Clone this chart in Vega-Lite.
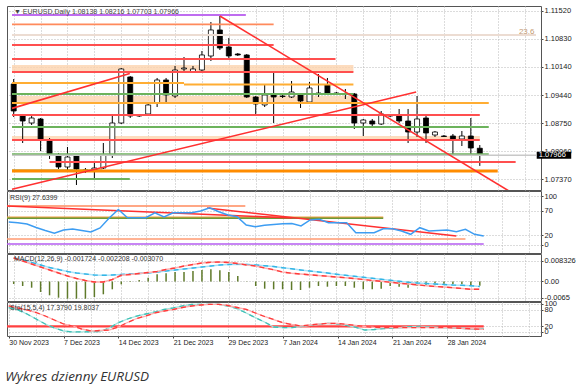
{
  "$schema": "https://vega.github.io/schema/vega-lite/v6.json",
  "padding": {"left": 5, "top": 5, "right": 0, "bottom": 0},
  "spacing": 1,
  "bounds": "flush",
  "resolve": {"scale": {"color": "independent"}},
  "title": {"text": "Wykres dzienny EURUSD", "orient": "bottom", "anchor": "start", "font": "Open Sans", "fontStyle": "italic", "fontSize": 13.5, "fontWeight": "normal", "color": "#333333", "offset": 24},
  "config": {
    "view": {"stroke": "#555555", "strokeWidth": 1},
    "axis": {"labelFont": "Liberation Sans", "labelFontSize": 7.5, "labelColor": "#222222", "gridColor": "#b8b8b8", "gridDash": [1, 2], "gridWidth": 1, "domain": false, "tickColor": "#444444", "tickSize": 2, "labelPadding": 1, "labelOverlap": false},
    "text": {"font": "Liberation Sans"}
  },
  "datasets": {
    "bars": [
      {"i":0,"o":1.09721,"h":1.09844,"l":1.08908,"c":1.09056,"rsi":46.7,"mh":-0.0010,"mb":0.0094,"mr":0.0094,"sk":86.8,"sd":92.9},
      {"i":1,"o":1.08932,"h":1.08982,"l":1.08267,"c":1.08809,"rsi":45.2,"mh":-0.0018,"mb":0.0086,"mr":0.0082,"sk":78.6,"sd":85.7},
      {"i":2,"o":1.08760,"h":1.08932,"l":1.08711,"c":1.08883,"rsi":42.6,"mh":-0.00248,"mb":0.0076,"mr":0.0070,"sk":64.3,"sd":78.6},
      {"i":3,"o":1.08859,"h":1.08883,"l":1.08070,"c":1.08341,"rsi":35.4,"mh":-0.0042,"mb":0.0066,"mr":0.0058,"sk":46.4,"sd":69.6},
      {"i":4,"o":1.08341,"h":1.08390,"l":1.07873,"c":1.07971,"rsi":29.2,"mh":-0.00552,"mb":0.0056,"mr":0.0046,"sk":28.6,"sd":57.1},
      {"i":5,"o":1.07971,"h":1.08021,"l":1.07626,"c":1.07676,"rsi":23.5,"mh":-0.00648,"mb":0.0048,"mr":0.0034,"sk":14.3,"sd":42.9},
      {"i":6,"o":1.07676,"h":1.08169,"l":1.07577,"c":1.07922,"rsi":30.3,"mh":-0.00688,"mb":0.0040,"mr":0.0022,"sk":3.6,"sd":28.6},
      {"i":7,"o":1.07947,"h":1.07996,"l":1.07232,"c":1.07626,"rsi":32.3,"mh":-0.00688,"mb":0.0034,"mr":0.0012,"sk":0,"sd":21.4},
      {"i":8,"o":1.07602,"h":1.07651,"l":1.07528,"c":1.07577,"rsi":29.2,"mh":-0.00688,"mb":0.0030,"mr":0.0004,"sk":0.5,"sd":10.7},
      {"i":9,"o":1.07602,"h":1.07774,"l":1.07404,"c":1.07651,"rsi":26.2,"mh":-0.0062,"mb":0.0026,"mr":-0.0002,"sk":1,"sd":3.6},
      {"i":10,"o":1.07651,"h":1.08267,"l":1.07626,"c":1.07971,"rsi":34.4,"mh":-0.00512,"mb":0.00248,"mr":-0.0002,"sk":1.8,"sd":5.4},
      {"i":11,"o":1.07971,"h":1.08982,"l":1.07897,"c":1.08760,"rsi":54.9,"mh":-0.00312,"mb":0.0026,"mr":0.0008,"sk":14.3,"sd":7.1},
      {"i":12,"o":1.08760,"h":1.10115,"l":1.08735,"c":1.10091,"rsi":72.3,"mh":-0.00112,"mb":0.0028,"mr":0.00248,"sk":33.2,"sd":17.9},
      {"i":13,"o":1.09894,"h":1.09918,"l":1.08883,"c":1.08932,"rsi":55.5,"mh":-0.0002,"mb":0.0030,"mr":0.0028,"sk":46.4,"sd":33.9},
      {"i":14,"o":1.08957,"h":1.08982,"l":1.08908,"c":1.08932,"rsi":55.5,"mh":0.0006,"mb":0.0032,"mr":0.0032,"sk":57.1,"sd":48.2},
      {"i":15,"o":1.08982,"h":1.09228,"l":1.08932,"c":1.09204,"rsi":55.5,"mh":0.00152,"mb":0.0034,"mr":0.0036,"sk":64.3,"sd":57.1},
      {"i":16,"o":1.09253,"h":1.09869,"l":1.09154,"c":1.09820,"rsi":65.7,"mh":0.00288,"mb":0.0038,"mr":0.0040,"sk":71.4,"sd":67.9},
      {"i":17,"o":1.09820,"h":1.09869,"l":1.09277,"c":1.09450,"rsi":56.9,"mh":0.00328,"mb":0.0042,"mr":0.0048,"sk":80.4,"sd":75},
      {"i":18,"o":1.09425,"h":1.10165,"l":1.09376,"c":1.10066,"rsi":65.7,"mh":0.0038,"mb":0.0046,"mr":0.0054,"sk":85.7,"sd":80.4},
      {"i":19,"o":1.10091,"h":1.10386,"l":1.10041,"c":1.10115,"rsi":65.7,"mh":0.0038,"mb":0.0050,"mr":0.0062,"sk":92.9,"sd":87.5},
      {"i":20,"o":1.10017,"h":1.10165,"l":1.09992,"c":1.10091,"rsi":65.7,"mh":0.0042,"mb":0.0054,"mr":0.0068,"sk":98.2,"sd":92.9},
      {"i":21,"o":1.10066,"h":1.10534,"l":1.10041,"c":1.10436,"rsi":69.2,"mh":0.0046,"mb":0.0058,"mr":0.0074,"sk":98.9,"sd":96.4},
      {"i":22,"o":1.10411,"h":1.11249,"l":1.10288,"c":1.11052,"rsi":76.0,"mh":0.00488,"mb":0.0062,"mr":0.00768,"sk":98.9,"sd":98.9},
      {"i":23,"o":1.11052,"h":1.11397,"l":1.10559,"c":1.10608,"rsi":67.8,"mh":0.00448,"mb":0.0066,"mr":0.0078,"sk":98.9,"sd":98.9},
      {"i":24,"o":1.10633,"h":1.10855,"l":1.10362,"c":1.10411,"rsi":61.0,"mh":0.0038,"mb":0.0068,"mr":0.0076,"sk":92.9,"sd":94.6},
      {"i":25,"o":1.10460,"h":1.10485,"l":1.10411,"c":1.10436,"rsi":57.5,"mh":0.0022,"mb":0.00688,"mr":0.0072,"sk":83.2,"sd":87.5},
      {"i":26,"o":1.10436,"h":1.10460,"l":1.09376,"c":1.09401,"rsi":40.5,"mh":0.0001,"mb":0.0068,"mr":0.0066,"sk":67.9,"sd":80.4},
      {"i":27,"o":1.09401,"h":1.09425,"l":1.08932,"c":1.09228,"rsi":37.0,"mh":-0.0018,"mb":0.0066,"mr":0.0062,"sk":51.1,"sd":67.9},
      {"i":28,"o":1.09204,"h":1.09696,"l":1.09154,"c":1.09450,"rsi":39.9,"mh":-0.00288,"mb":0.00632,"mr":0.0054,"sk":35.7,"sd":55.4},
      {"i":29,"o":1.09450,"h":1.09992,"l":1.08760,"c":1.09401,"rsi":41.5,"mh":-0.00312,"mb":0.0060,"mr":0.00472,"sk":17.9,"sd":44.6},
      {"i":30,"o":1.09425,"h":1.09475,"l":1.09376,"c":1.09413,"rsi":43.2,"mh":-0.00312,"mb":0.00552,"mr":0.0038,"sk":16.1,"sd":33.2},
      {"i":31,"o":1.09401,"h":1.09795,"l":1.09376,"c":1.09524,"rsi":43.6,"mh":-0.0034,"mb":0.00508,"mr":0.00328,"sk":15.4,"sd":26.8},
      {"i":32,"o":1.09450,"h":1.09499,"l":1.09130,"c":1.09302,"rsi":38.5,"mh":-0.0034,"mb":0.0046,"mr":0.0030,"sk":19.6,"sd":21.4},
      {"i":33,"o":1.09277,"h":1.09770,"l":1.09253,"c":1.09623,"rsi":50.8,"mh":-0.00248,"mb":0.0042,"mr":0.00268,"sk":23.9,"sd":25},
      {"i":34,"o":1.09475,"h":1.09967,"l":1.09401,"c":1.09499,"rsi":52.2,"mh":-0.0018,"mb":0.0038,"mr":0.0024,"sk":27.5,"sd":28.6},
      {"i":35,"o":1.09696,"h":1.09869,"l":1.09475,"c":1.09499,"rsi":45.3,"mh":-0.00208,"mb":0.0034,"mr":0.00212,"sk":31.1,"sd":31.1},
      {"i":36,"o":1.09499,"h":1.09524,"l":1.09450,"c":1.09487,"rsi":45.3,"mh":-0.0018,"mb":0.00292,"mr":0.0018,"sk":28.6,"sd":30.4},
      {"i":37,"o":1.09475,"h":1.09598,"l":1.09351,"c":1.09462,"rsi":45.3,"mh":-0.0018,"mb":0.00248,"mr":0.00152,"sk":23.9,"sd":27.5},
      {"i":38,"o":1.09475,"h":1.09499,"l":1.08612,"c":1.08760,"rsi":24.7,"mh":-0.00248,"mb":0.00208,"mr":0.0012,"sk":16.1,"sd":23.2},
      {"i":39,"o":1.08760,"h":1.08859,"l":1.08440,"c":1.08834,"rsi":24.7,"mh":-0.00312,"mb":0.00168,"mr":0.0008,"sk":7.1,"sd":19.6},
      {"i":40,"o":1.08809,"h":1.08859,"l":1.08686,"c":1.08735,"rsi":24.7,"mh":-0.00312,"mb":0.00128,"mr":0.0004,"sk":8.9,"sd":16.8},
      {"i":41,"o":1.08735,"h":1.09056,"l":1.08711,"c":1.08982,"rsi":32.9,"mh":-0.00288,"mb":0.00088,"mr":0.00008,"sk":11.8,"sd":15.4},
      {"i":42,"o":1.08932,"h":1.08982,"l":1.08908,"c":1.08957,"rsi":32.9,"mh":-0.0018,"mb":0.00048,"mr":-0.00028,"sk":14.3,"sd":15.4},
      {"i":43,"o":1.08932,"h":1.09105,"l":1.08760,"c":1.08809,"rsi":28.2,"mh":-0.00208,"mb":0.00008,"mr":-0.00068,"sk":16.1,"sd":15.4},
      {"i":44,"o":1.08809,"h":1.09105,"l":1.08267,"c":1.08538,"rsi":21.4,"mh":-0.00248,"mb":-0.00032,"mr":-0.0010,"sk":18.9,"sd":15.4},
      {"i":45,"o":1.08538,"h":1.09425,"l":1.08415,"c":1.08859,"rsi":35.0,"mh":-0.0018,"mb":-0.0006,"mr":-0.00132,"sk":19.6,"sd":16.1},
      {"i":46,"o":1.08883,"h":1.08982,"l":1.08267,"c":1.08514,"rsi":28.2,"mh":-0.0018,"mb":-0.0008,"mr":-0.00168,"sk":17.9,"sd":16.1},
      {"i":47,"o":1.08464,"h":1.08563,"l":1.08415,"c":1.08538,"rsi":29.2,"mh":-0.00152,"mb":-0.0010,"mr":-0.0020,"sk":16.1,"sd":15.4},
      {"i":48,"o":1.08440,"h":1.08464,"l":1.08415,"c":1.08427,"rsi":30.3,"mh":-0.00128,"mb":-0.0012,"mr":-0.0022,"sk":15.4,"sd":15.4},
      {"i":49,"o":1.08440,"h":1.08489,"l":1.07971,"c":1.08341,"rsi":26.8,"mh":-0.00112,"mb":-0.0014,"mr":-0.00248,"sk":14.3,"sd":14.3},
      {"i":50,"o":1.08366,"h":1.08563,"l":1.08193,"c":1.08440,"rsi":31.7,"mh":-0.00112,"mb":-0.00152,"mr":-0.0028,"sk":12.5,"sd":12.5},
      {"i":51,"o":1.08440,"h":1.08883,"l":1.07947,"c":1.08144,"rsi":21.4,"mh":-0.00152,"mb":-0.00168,"mr":-0.00312,"sk":9.6,"sd":10.7},
      {"i":52,"o":1.08138,"h":1.08216,"l":1.07703,"c":1.07966,"rsi":17.9,"mh":-0.001724,"mb":-0.0020,"mr":-0.00307,"sk":11,"sd":9.6}
    ],
    "bands": [
      {"a":-0.19,"b":37.9,"p":1.10189,"q":1.10017},
      {"a":-0.19,"b":37.9,"p":1.09425,"q":1.09270},
      {"a":-0.19,"b":52,"p":1.08440,"q":1.08341}
    ],
    "mainLines": [
      {"kind":"price","a":-0.19,"b":58.27,"p":1.07966,"q":1.07966},
      {"kind":"purple","a":-0.19,"b":25.9,"p":1.11421,"q":1.11421},
      {"kind":"coral","a":-0.19,"b":29,"p":1.11192,"q":1.11192},
      {"kind":"fib","a":-0.19,"b":58.27,"p":1.10929,"q":1.10929},
      {"kind":"red","a":-0.19,"b":29,"p":1.10682,"q":1.10682},
      {"kind":"red","a":-0.19,"b":35.9,"p":1.10337,"q":1.10337},
      {"kind":"red","a":-0.19,"b":37.9,"p":1.10017,"q":1.10017},
      {"kind":"orange","a":-0.19,"b":19,"p":1.09746,"q":1.09746},
      {"kind":"orange","a":19,"b":37.9,"p":1.09709,"q":1.09709},
      {"kind":"green","a":-0.19,"b":37.9,"p":1.09475,"q":1.09475},
      {"kind":"orange","a":-0.19,"b":53,"p":1.09253,"q":1.09253},
      {"kind":"red","a":-0.19,"b":52,"p":1.08957,"q":1.08957},
      {"kind":"green","a":-0.19,"b":53,"p":1.08661,"q":1.08661},
      {"kind":"red","a":-0.19,"b":52,"p":1.08341,"q":1.08341},
      {"kind":"green","a":-0.19,"b":53,"p":1.07995,"q":1.07995},
      {"kind":"red","a":4,"b":56,"p":1.07799,"q":1.07799},
      {"kind":"orangeThick","a":-0.19,"b":54,"p":1.07577,"q":1.07577},
      {"kind":"olive","a":-0.19,"b":9.9,"p":1.07590,"q":1.07590},
      {"kind":"green","a":-0.19,"b":12.95,"p":1.0738,"q":1.0738},
      {"kind":"trend","a":-0.19,"b":12.95,"p":1.0912,"q":1.0998},
      {"kind":"trend","a":-0.19,"b":44.9,"p":1.07129,"q":1.09524},
      {"kind":"trend","a":23,"b":56,"p":1.11397,"q":1.06985}
    ],
    "rsiLines": [
      {"kind":"coral","a":-0.19,"b":25.9,"p":79.5,"q":79.5},
      {"kind":"orange","a":-0.19,"b":41,"p":56.3,"q":56.3},
      {"kind":"olive","a":-0.19,"b":41,"p":54.5,"q":54.5},
      {"kind":"salmon","a":-0.19,"b":50,"p":11.8,"q":11.8},
      {"kind":"purple","a":-0.19,"b":52,"p":1.5,"q":1.5},
      {"kind":"trend","a":-0.19,"b":31,"p":79.5,"q":54.9},
      {"kind":"trend","a":21.7,"b":49,"p":75.4,"q":17.9}
    ],
    "stochLines": [
      {"kind":"level","a":-0.19,"b":52,"p":20,"q":20}
    ]
  },
  "vconcat": [
    {
      "width": 534,
      "height": 184,
      "layer": [
        {
          "data": {"name": "bands"},
          "mark": {"type": "rect", "color": "#fcd3ae", "opacity": 0.8},
          "encoding": {
            "x": {"field": "a", "type": "quantitative", "title": null, "scale": {"domain": [-0.19, 58.27], "nice": false, "zero": false}, "axis": {"values": [0,3,6,9,12,15,18,21,24,27,30,33,36,39,42,45,48,51,54,57], "tickCount": 40, "labels": false, "ticks": false, "grid": true}},
            "x2": {"field": "b"},
            "y": {"field": "p", "type": "quantitative", "title": null, "scale": {"domain": [1.07109, 1.11643], "nice": false, "zero": false}, "axis": {"orient": "right", "values": [1.0737, 1.0806, 1.0875, 1.0944, 1.1014, 1.1083, 1.1152], "tickCount": 20, "format": ".5f", "grid": true, "labelOverlap": false, "labelFlush": false}},
            "y2": {"field": "q"}
          }
        },
        {
          "data": {"name": "bars"},
          "mark": {"type": "rule", "color": "#000000", "strokeWidth": 1},
          "encoding": {
            "x": {"field": "i", "type": "quantitative", "title": null},
            "y": {"field": "l", "type": "quantitative", "title": null},
            "y2": {"field": "h"}
          }
        },
        {
          "data": {"name": "bars"},
          "mark": {"type": "bar", "size": 5, "stroke": "#000000", "strokeWidth": 0.8},
          "encoding": {
            "x": {"field": "i", "type": "quantitative", "title": null},
            "y": {"field": "o", "type": "quantitative", "title": null},
            "y2": {"field": "c"},
            "fill": {"condition": {"test": "datum.c >= datum.o", "value": "#ffffff"}, "value": "#000000"}
          }
        },
        {
          "data": {"name": "mainLines"},
          "transform": [{"filter": "datum.kind != 'orangeThick' && datum.kind != 'trend' && datum.kind != 'price'"}],
          "mark": {"type": "rule", "strokeWidth": 1.8, "clip": true},
          "encoding": {
            "x": {"field": "a", "type": "quantitative", "title": null},
            "x2": {"field": "b"},
            "y": {"field": "p", "type": "quantitative", "title": null},
            "y2": {"field": "q"},
            "color": {"field": "kind", "type": "nominal", "legend": null, "scale": {"domain": ["purple", "coral", "fib", "red", "orange", "green", "olive"], "range": ["#bf6cf0", "#ff8a5c", "#ecdcd2", "#ff4f4f", "#ffad33", "#6cb35c", "#8c8c1a"]}}
          }
        },
        {
          "data": {"name": "mainLines"},
          "transform": [{"filter": "datum.kind == 'price'"}],
          "mark": {"type": "rule", "strokeWidth": 1.5, "color": "#c8c8c8", "clip": true},
          "encoding": {
            "x": {"field": "a", "type": "quantitative", "title": null},
            "x2": {"field": "b"},
            "y": {"field": "p", "type": "quantitative", "title": null},
            "y2": {"field": "q"}
          }
        },
        {
          "data": {"name": "mainLines"},
          "transform": [{"filter": "datum.kind == 'orangeThick'"}],
          "mark": {"type": "rule", "strokeWidth": 3, "color": "#ff8c00", "clip": true},
          "encoding": {
            "x": {"field": "a", "type": "quantitative", "title": null},
            "x2": {"field": "b"},
            "y": {"field": "p", "type": "quantitative", "title": null},
            "y2": {"field": "q"}
          }
        },
        {
          "data": {"name": "mainLines"},
          "transform": [{"filter": "datum.kind == 'trend'"}],
          "mark": {"type": "rule", "strokeWidth": 1.6, "color": "#ff3030", "clip": true},
          "encoding": {
            "x": {"field": "a", "type": "quantitative", "title": null},
            "x2": {"field": "b"},
            "y": {"field": "p", "type": "quantitative", "title": null},
            "y2": {"field": "q"}
          }
        },
        {
          "data": {"values": [{"t": "▼ EURUSD,Daily  1.08138 1.08216 1.07703 1.07966"}]},
          "mark": {"type": "text", "align": "left", "baseline": "middle", "dx": 2, "fontSize": 7, "color": "#444444"},
          "encoding": {
            "x": {"datum": -0.19, "type": "quantitative"},
            "y": {"datum": 1.11488, "type": "quantitative"},
            "text": {"field": "t"}
          }
        },
        {
          "data": {"values": [{"t": "23.6"}]},
          "mark": {"type": "text", "align": "right", "baseline": "middle", "dy": -2.5, "fontSize": 8, "color": "#c49a72"},
          "encoding": {
            "x": {"datum": 58.1, "type": "quantitative"},
            "y": {"datum": 1.10929, "type": "quantitative"},
            "text": {"field": "t"}
          }
        },
        {
          "data": {"values": [{"a": 58.35, "b": 62.2, "p": 1.0805, "q": 1.07882}]},
          "mark": {"type": "rect", "color": "#000000"},
          "encoding": {
            "x": {"field": "a", "type": "quantitative", "title": null},
            "x2": {"field": "b"},
            "y": {"field": "p", "type": "quantitative", "title": null},
            "y2": {"field": "q"}
          }
        },
        {
          "data": {"values": [{"t": "1.07966", "p": 1.07966}]},
          "mark": {"type": "text", "align": "left", "baseline": "middle", "dx": 2, "fontSize": 7.5, "color": "#ffffff"},
          "encoding": {
            "x": {"datum": 58.35, "type": "quantitative"},
            "y": {"field": "p", "type": "quantitative", "title": null},
            "text": {"field": "t"}
          }
        }
      ]
    },
    {
      "width": 534,
      "height": 62,
      "layer": [
        {
          "data": {"name": "rsiLines"},
          "transform": [{"filter": "datum.kind != 'trend'"}],
          "mark": {"type": "rule", "strokeWidth": 1.6, "clip": true},
          "encoding": {
            "x": {"field": "a", "type": "quantitative", "title": null, "scale": {"domain": [-0.19, 58.27], "nice": false, "zero": false}, "axis": {"values": [0,3,6,9,12,15,18,21,24,27,30,33,36,39,42,45,48,51,54,57], "tickCount": 40, "labels": false, "ticks": false, "grid": true}},
            "x2": {"field": "b"},
            "y": {"field": "p", "type": "quantitative", "title": null, "scale": {"domain": [-16.92, 110.26], "nice": false, "zero": false}, "axis": {"orient": "right", "values": [100, 70, 20, 0], "tickCount": 20, "format": "d", "grid": true, "labelOverlap": false, "labelFlush": false}},
            "y2": {"field": "q"},
            "color": {"field": "kind", "type": "nominal", "legend": null, "scale": {"domain": ["coral", "orange", "olive", "salmon", "purple"], "range": ["#ff8a5c", "#f0a040", "#6a9a3a", "#ff9a70", "#b45cf0"]}}
          }
        },
        {
          "data": {"name": "rsiLines"},
          "transform": [{"filter": "datum.kind == 'trend'"}],
          "mark": {"type": "rule", "strokeWidth": 1.6, "color": "#ff3030", "clip": true},
          "encoding": {
            "x": {"field": "a", "type": "quantitative", "title": null},
            "x2": {"field": "b"},
            "y": {"field": "p", "type": "quantitative", "title": null},
            "y2": {"field": "q"}
          }
        },
        {
          "data": {"name": "bars"},
          "mark": {"type": "line", "color": "#3d9df2", "strokeWidth": 1.5},
          "encoding": {
            "x": {"field": "i", "type": "quantitative", "title": null},
            "y": {"field": "rsi", "type": "quantitative", "title": null}
          }
        },
        {
          "data": {"values": [{"t": "RSI(9) 27.6399"}]},
          "mark": {"type": "text", "align": "left", "baseline": "middle", "dx": 3, "fontSize": 7, "color": "#333333"},
          "encoding": {
            "x": {"datum": -0.19, "type": "quantitative"},
            "y": {"datum": 96.5, "type": "quantitative"},
            "text": {"field": "t"}
          }
        }
      ]
    },
    {
      "width": 534,
      "height": 47,
      "layer": [
        {
          "data": {"name": "bars"},
          "mark": {"type": "bar", "size": 1.5, "color": "#5f7a2a"},
          "encoding": {
            "x": {"field": "i", "type": "quantitative", "title": null, "scale": {"domain": [-0.19, 58.27], "nice": false, "zero": false}, "axis": {"values": [0,3,6,9,12,15,18,21,24,27,30,33,36,39,42,45,48,51,54,57], "tickCount": 40, "labels": false, "ticks": false, "grid": true}},
            "y": {"field": "mh", "type": "quantitative", "title": null, "scale": {"domain": [-0.0078, 0.011], "nice": false, "zero": false}, "axis": {"orient": "right", "values": [0.008326, 0, -0.0065], "tickCount": 20, "labelExpr": "datum.value == 0 ? '0.00' : (datum.value > 0 ? '0.008326' : '-0.0065')", "grid": true, "labelOverlap": false, "labelFlush": false}},
            "y2": {"datum": 0}
          }
        },
        {
          "data": {"name": "bars"},
          "mark": {"type": "line", "color": "#a8e2fa", "strokeWidth": 1.4},
          "encoding": {
            "x": {"field": "i", "type": "quantitative", "title": null},
            "y": {"field": "mb", "type": "quantitative", "title": null}
          }
        },
        {
          "data": {"name": "bars"},
          "mark": {"type": "line", "color": "#33b5e5", "strokeWidth": 1.4, "strokeDash": [5, 4]},
          "encoding": {
            "x": {"field": "i", "type": "quantitative", "title": null},
            "y": {"field": "mb", "type": "quantitative", "title": null}
          }
        },
        {
          "data": {"name": "bars"},
          "mark": {"type": "line", "color": "#ffb0b0", "strokeWidth": 1.4},
          "encoding": {
            "x": {"field": "i", "type": "quantitative", "title": null},
            "y": {"field": "mr", "type": "quantitative", "title": null}
          }
        },
        {
          "data": {"name": "bars"},
          "mark": {"type": "line", "color": "#ff3b3b", "strokeWidth": 1.4, "strokeDash": [5, 4]},
          "encoding": {
            "x": {"field": "i", "type": "quantitative", "title": null},
            "y": {"field": "mr", "type": "quantitative", "title": null}
          }
        },
        {
          "data": {"values": [{"t": "MACD(12,26,9) -0.001724 -0.002208 -0.003070"}]},
          "mark": {"type": "text", "align": "left", "baseline": "middle", "dx": 2, "fontSize": 7, "color": "#333333"},
          "encoding": {
            "x": {"datum": -0.19, "type": "quantitative"},
            "y": {"datum": 0.00912, "type": "quantitative"},
            "text": {"field": "t"}
          }
        }
      ]
    },
    {
      "width": 534,
      "height": 34,
      "layer": [
        {
          "data": {"name": "stochLines"},
          "mark": {"type": "rule", "strokeWidth": 2.2, "color": "#ff4040", "clip": true},
          "encoding": {
            "x": {"field": "a", "type": "quantitative", "title": null, "scale": {"domain": [-0.19, 58.27], "nice": false, "zero": false}, "axis": {"values": [0,3,6,9,12,15,18,21,24,27,30,33,36,39,42,45,48,51,54,57], "tickCount": 40, "grid": true, "ticks": true, "tickSize": 2, "tickOpacity": {"condition": {"test": "datum.value % 6 == 0 && datum.value <= 48", "value": 1}, "value": 0}, "labelAlign": "left", "labelFontSize": 7, "labelPadding": 0.5, "labelOverlap": false, "labelExpr": "(datum.value % 6 == 0 && datum.value <= 48) ? ['30 Nov 2023','7 Dec 2023','14 Dec 2023','21 Dec 2023','29 Dec 2023','7 Jan 2024','14 Jan 2024','21 Jan 2024','28 Jan 2024'][datum.value / 6] : ''"}},
            "x2": {"field": "b"},
            "y": {"field": "p", "type": "quantitative", "title": null, "scale": {"domain": [-14.29, 107.14], "nice": false, "zero": false}, "axis": {"orient": "right", "values": [100, 80, 20, 0], "tickCount": 20, "format": "d", "grid": true, "labelOverlap": false, "labelFlush": false}},
            "y2": {"field": "q"}
          }
        },
        {
          "data": {"name": "bars"},
          "mark": {"type": "line", "color": "#a6e6e0", "strokeWidth": 1.3},
          "encoding": {
            "x": {"field": "i", "type": "quantitative", "title": null},
            "y": {"field": "sk", "type": "quantitative", "title": null}
          }
        },
        {
          "data": {"name": "bars"},
          "mark": {"type": "line", "color": "#3fbfb5", "strokeWidth": 1.3, "strokeDash": [5, 4]},
          "encoding": {
            "x": {"field": "i", "type": "quantitative", "title": null},
            "y": {"field": "sk", "type": "quantitative", "title": null}
          }
        },
        {
          "data": {"name": "bars"},
          "mark": {"type": "line", "color": "#ffb0b0", "strokeWidth": 1.3},
          "encoding": {
            "x": {"field": "i", "type": "quantitative", "title": null},
            "y": {"field": "sd", "type": "quantitative", "title": null}
          }
        },
        {
          "data": {"name": "bars"},
          "mark": {"type": "line", "color": "#ff3b3b", "strokeWidth": 1.3, "strokeDash": [5, 4]},
          "encoding": {
            "x": {"field": "i", "type": "quantitative", "title": null},
            "y": {"field": "sd", "type": "quantitative", "title": null}
          }
        },
        {
          "data": {"values": [{"t": "Sto(15,5,4) 17.3790 19.8037"}]},
          "mark": {"type": "text", "align": "left", "baseline": "middle", "dx": 3, "fontSize": 7, "color": "#333333"},
          "encoding": {
            "x": {"datum": -0.19, "type": "quantitative"},
            "y": {"datum": 84.6, "type": "quantitative"},
            "text": {"field": "t"}
          }
        }
      ]
    }
  ]
}
